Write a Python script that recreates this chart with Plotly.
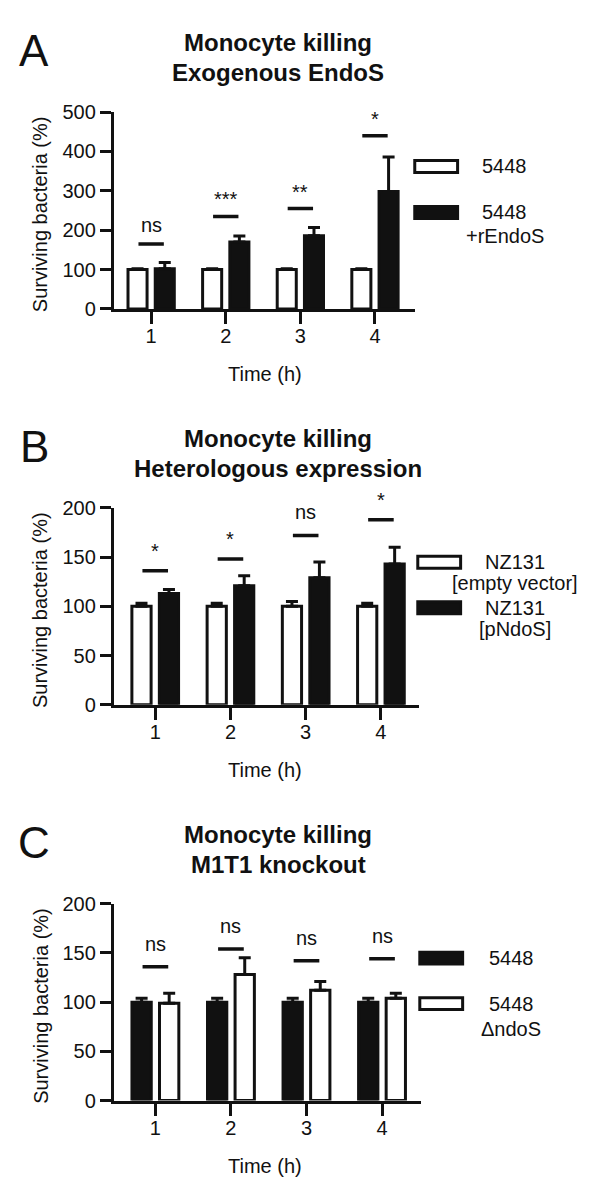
import plotly.graph_objects as go

# ---------------- data ----------------
hours = [1, 2, 3, 4]
tick_text = ["1", "2", "3", "4"]

# Panel A: Exogenous EndoS
a_ctrl = [100, 100, 100, 100]
a_ctrl_err = [2, 2, 2, 2]
a_trt = [102, 170, 186, 298]
a_trt_err = [16, 15, 21, 88]
a_sig_y = [165, 235, 255, 440]
a_sig = ["ns", "***", "**", "*"]

# Panel B: Heterologous expression
b_ctrl = [100, 100, 100, 100]
b_ctrl_err = [3, 3, 5, 3]
b_trt = [113, 121, 129, 143]
b_trt_err = [4, 10, 16, 17]
b_sig_y = [136, 148, 172, 188]
b_sig = ["*", "*", "ns", "*"]

# Panel C: M1T1 knockout
c_wt = [100, 100, 100, 100]
c_wt_err = [4, 4, 4, 4]
c_ko = [99, 128, 112, 104]
c_ko_err = [10, 17, 9, 5]
c_sig_y = [136, 154, 142, 144]
c_sig = ["ns", "ns", "ns", "ns"]

a_yticks = [0, 100, 200, 300, 400, 500]
bc_yticks = [0, 50, 100, 150, 200]

a_legend = [["5448"], ["5448", "+rEndoS"]]
b_legend = [["NZ131", "[empty vector]"], ["NZ131", "[pNdoS]"]]
c_legend = [["5448"], ["5448", "ΔndoS"]]

# ---------------- style ----------------
W, H = 600, 1200
OFF = 8       # page body margin
SC = 0.992    # observed screen scale
INK = "#111111"
FONT = "Liberation Sans, Arial, sans-serif"
FS = 20


def px(x):
    return (x - OFF) / SC / W


def py(y):
    return 1 - (y - OFF) / SC / H


def label(x, y, text, size=FS, **kw):
    d = dict(x=px(x), y=py(y), xref="paper", yref="paper", text=text,
             showarrow=False, xanchor="center", yanchor="middle",
             font=dict(family=FONT, size=size, color=INK))
    d.update(kw)
    return d


fig = go.Figure()

panels = [
    dict(ax="", top=0, first=a_ctrl, first_err=a_ctrl_err, first_fill="white",
         second=a_trt, second_err=a_trt_err, second_fill=INK,
         sig_y=a_sig_y, sig=a_sig, ymax=500, yticks=a_yticks,
         letter="A", t1="Monocyte killing", t2="Exogenous EndoS",
         xdom=(113, 412), xr=(0.5, 4.54), shift_ns=6, shift_ast=4,
         leg=a_legend, leg_box_x=410, leg_text_x=501, leg_y=(157, 203.5), leg_gap=24),
    dict(ax="2", top=400, first=b_ctrl, first_err=b_ctrl_err, first_fill="white",
         second=b_trt, second_err=b_trt_err, second_fill=INK,
         sig_y=b_sig_y, sig=b_sig, ymax=200, yticks=bc_yticks,
         letter="B", t1="Monocyte killing", t2="Heterologous expression",
         xdom=(113, 416), xr=(0.45, 4.51), shift_ns=10, shift_ast=7,
         leg=b_legend, leg_box_x=413, leg_text_x=511, leg_y=(157, 203), leg_gap=21),
    dict(ax="3", top=800, first=c_wt, first_err=c_wt_err, first_fill=INK,
         second=c_ko, second_err=c_ko_err, second_fill="white",
         sig_y=c_sig_y, sig=c_sig, ymax=200, yticks=bc_yticks,
         letter="C", t1="Monocyte killing", t2="M1T1 knockout",
         xdom=(113, 418), xr=(0.45, 4.52), shift_ns=10, shift_ast=7,
         leg=c_legend, leg_box_x=415, leg_text_x=507, leg_y=(157, 203), leg_gap=26),
]

annotations = []
shapes = []
layout_axes = {}

for p in panels:
    xa = "x" + p["ax"]
    ya = "y" + p["ax"]
    top = p["top"]
    series = [(p["first"], p["first_err"], p["first_fill"], " ".join(p["leg"][0])),
              (p["second"], p["second_err"], p["second_fill"], " ".join(p["leg"][1]))]
    for vals, errs, fill, nm in series:
        fig.add_trace(go.Bar(
            x=hours, y=vals, name=nm, xaxis=xa, yaxis=ya,
            marker=dict(color=fill, line=dict(color=INK, width=3)),
            error_y=dict(type="data", symmetric=False, array=errs,
                         arrayminus=[0] * len(errs), color=INK, thickness=3, width=6),
            showlegend=False,
        ))
    # significance bars
    lx, ly = [], []
    for h, s in zip(hours, p["sig_y"]):
        lx += [h - 0.17, h + 0.17, None]
        ly += [s, s, None]
    fig.add_trace(go.Scatter(x=lx, y=ly, mode="lines", xaxis=xa, yaxis=ya,
                             line=dict(color=INK, width=3.5), showlegend=False,
                             hoverinfo="skip"))
    for h, s, lab in zip(hours, p["sig_y"], p["sig"]):
        annotations.append(dict(
            x=h, y=s, xref=xa, yref=ya, text=lab, showarrow=False,
            xanchor="center", yanchor="bottom",
            yshift=p["shift_ns"] if lab == "ns" else p["shift_ast"],
            font=dict(family=FONT, size=FS, color=INK)))

    key = p["ax"]
    layout_axes["xaxis" + key] = dict(
        domain=[px(p["xdom"][0]), px(p["xdom"][1])], range=list(p["xr"]), anchor=ya,
        tickvals=hours, ticktext=tick_text, ticks="outside", ticklen=12,
        tickwidth=3, tickcolor=INK, showline=True, linewidth=3, linecolor=INK,
        showgrid=False, zeroline=False, ticklabelstandoff=-5,
        tickfont=dict(family=FONT, size=FS, color=INK), fixedrange=True)
    layout_axes["yaxis" + key] = dict(
        domain=[py(top + 301), py(top + 102)], range=[0, p["ymax"]], anchor=xa,
        tickvals=p["yticks"], ticks="outside", ticklen=11, tickwidth=3,
        tickcolor=INK, showline=True, linewidth=3, linecolor=INK,
        showgrid=False, zeroline=False,
        tickfont=dict(family=FONT, size=FS, color=INK), fixedrange=True)

    # titles & labels
    annotations += [
        label(34, top + 40, p["letter"], size=44),
        label(276, top + 32, "<b>" + p["t1"] + "</b>", size=24),
        label(276, top + 62, "<b>" + p["t2"] + "</b>", size=24),
        label(40, top + 205, "Surviving bacteria (%)", textangle=-90),
        label(263, top + 367, "Time (h)"),
    ]
    # legend (drawn)
    fills = [p["first_fill"], p["second_fill"]]
    for i, (lines, fill) in enumerate(zip(p["leg"], fills)):
        cy = top + p["leg_y"][i]
        bx = p["leg_box_x"]
        shapes.append(dict(type="rect", xref="paper", yref="paper",
                           x0=px(bx + 1.5), x1=px(bx + 44), y0=py(cy - 6), y1=py(cy + 6),
                           fillcolor=fill, line=dict(color=INK, width=3)))
        for j, line in enumerate(lines):
            annotations.append(label(p["leg_text_x"], cy + j * p["leg_gap"], line))

fig.update_layout(
    width=W, height=H, margin=dict(l=0, r=0, t=0, b=0),
    paper_bgcolor="white", plot_bgcolor="white",
    barmode="group", bargap=0.27, bargroupgap=0.3,
    annotations=annotations, shapes=shapes, showlegend=False,
    **layout_axes,
)

fig.write_html("out.html")
